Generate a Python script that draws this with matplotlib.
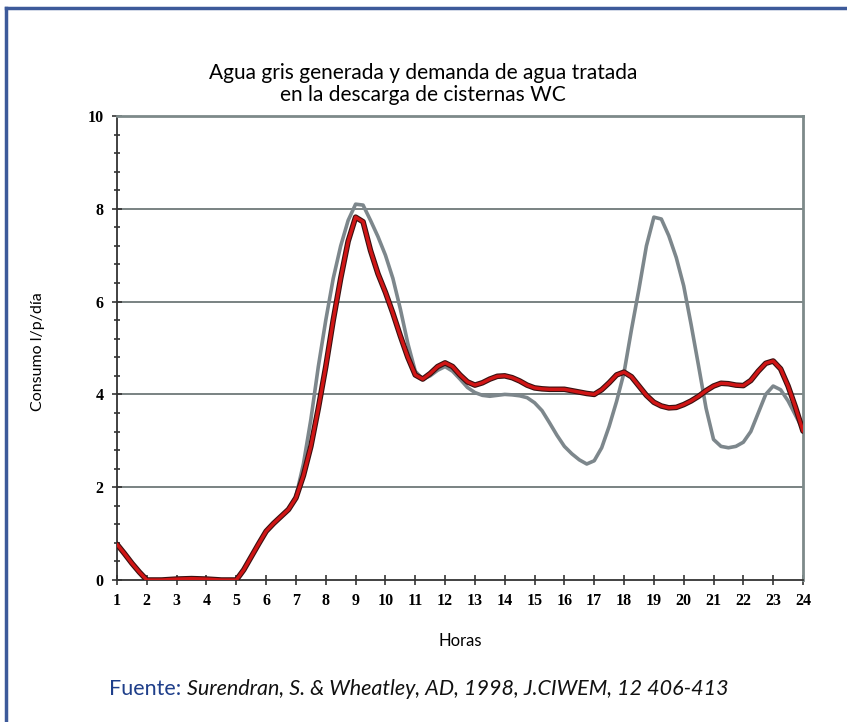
import matplotlib.pyplot as plt
from matplotlib.lines import Line2D
from matplotlib.ticker import MultipleLocator

# horas (cuartos de hora donde la curva cambia)
horas = [1, 1.25, 1.5, 1.75, 2, 2.5, 3, 3.5, 4, 4.5, 5,
         5.25, 5.5, 5.75, 6, 6.25, 6.5, 6.75, 7,
         7.25, 7.5, 7.75, 8, 8.25, 8.5, 8.75, 9,
         9.25, 9.5, 9.75, 10, 10.25, 10.5, 10.75, 11,
         11.25, 11.5, 11.75, 12, 12.25, 12.5, 12.75, 13,
         13.25, 13.5, 13.75, 14, 14.25, 14.5, 14.75, 15,
         15.25, 15.5, 15.75, 16, 16.25, 16.5, 16.75, 17,
         17.25, 17.5, 17.75, 18, 18.25, 18.5, 18.75, 19,
         19.25, 19.5, 19.75, 20, 20.25, 20.5, 20.75, 21,
         21.25, 21.5, 21.75, 22, 22.25, 22.5, 22.75, 23,
         23.25, 23.5, 23.75, 24]

# agua gris generada
gris = [0.77, 0.57, 0.36, 0.17, 0.0, 0.0, 0.02, 0.03, 0.02, 0.0, 0.0,
        0.22, 0.5, 0.78, 1.05, 1.22, 1.37, 1.52, 1.8,
        2.5, 3.46, 4.6, 5.6, 6.5, 7.2, 7.75, 8.1,
        8.08, 7.75, 7.4, 7.0, 6.5, 5.84, 5.1, 4.5,
        4.33, 4.4, 4.52, 4.6, 4.5, 4.33, 4.15, 4.04,
        3.98, 3.96, 3.98, 4.0, 3.99, 3.97, 3.93, 3.82,
        3.65, 3.39, 3.12, 2.88, 2.72, 2.59, 2.5, 2.57,
        2.85, 3.31, 3.85, 4.47, 5.4, 6.27, 7.2, 7.82,
        7.78, 7.42, 6.95, 6.34, 5.5, 4.61, 3.7, 3.03,
        2.88, 2.85, 2.88, 2.97, 3.2, 3.6, 4.0, 4.18,
        4.1, 3.86, 3.55, 3.24]

# demanda de agua tratada (cisternas WC)
tratada = [0.77, 0.57, 0.36, 0.17, 0.0, 0.0, 0.02, 0.03, 0.02, 0.0, 0.0,
           0.22, 0.5, 0.78, 1.05, 1.22, 1.37, 1.52, 1.77,
           2.25, 2.88, 3.7, 4.6, 5.6, 6.5, 7.3, 7.82,
           7.72, 7.1, 6.6, 6.2, 5.75, 5.26, 4.8, 4.42,
           4.33, 4.45, 4.6, 4.68, 4.6, 4.42, 4.27, 4.2,
           4.25, 4.33, 4.39, 4.4, 4.36, 4.29, 4.2, 4.14,
           4.12, 4.11, 4.11, 4.11, 4.08, 4.05, 4.02, 4.0,
           4.1, 4.25, 4.42, 4.48, 4.38, 4.18, 3.98, 3.83,
           3.75, 3.71, 3.72, 3.78, 3.86, 3.96, 4.08, 4.18,
           4.24, 4.23, 4.2, 4.19, 4.3, 4.5, 4.67, 4.72,
           4.55, 4.18, 3.72, 3.21]

xticks = list(range(1, 25))
yticks = [0, 2, 4, 6, 8, 10]

fig = plt.figure(figsize=(8.47, 7.22), dpi=100)
ax = fig.add_axes([117 / 847, 1 - 580 / 722, 686 / 847, 464 / 722])

for y in [2, 4, 6, 8]:
    ax.axhline(y, color='#6e7878', lw=1.3, zorder=1)

line_kw = dict(solid_capstyle='round', solid_joinstyle='round')
ax.plot(horas, gris, color='#7d878c', lw=2.6, zorder=2, **line_kw)
ax.plot(horas, tratada, color='#3a1010', lw=4.0, zorder=3, **line_kw)
ax.plot(horas, tratada, color='#d01515', lw=2.4, zorder=4, **line_kw)

ax.set_xlim(1, 24)
ax.set_ylim(0, 10)
ax.set_xticks(xticks)
ax.set_yticks(yticks)
ax.yaxis.set_minor_locator(MultipleLocator(0.4))
tick_font = dict(family='Liberation Serif', weight='bold', size=11.5)
ax.set_xticklabels([str(h) for h in xticks], **tick_font)
ax.set_yticklabels([str(v) for v in yticks], **tick_font)
ax.tick_params(axis='both', which='major', direction='inout', length=7, width=1.2,
               color='#333333', pad=6)
ax.tick_params(axis='y', which='minor', direction='inout', length=4, width=1.2,
               color='#333333')

ax.spines['left'].set_color('#333333')
ax.spines['bottom'].set_color('#333333')
ax.spines['left'].set_linewidth(1.3)
ax.spines['bottom'].set_linewidth(1.3)
ax.spines['top'].set_color('#7d8a8a')
ax.spines['right'].set_color('#7d8a8a')
ax.spines['top'].set_linewidth(2)
ax.spines['right'].set_linewidth(2)

label_font = ['Lato', 'DejaVu Sans']
fig.text(423 / 847, 1 - 84 / 722, 'Agua gris generada y demanda de agua tratada\nen la descarga de cisternas WC',
         ha='center', va='center', fontsize=15, family=label_font, linespacing=1.12)
fig.text(38 / 847, 1 - 352 / 722, 'Consumo l/p/día', rotation=90, ha='center', va='center',
         fontsize=11.5, family=label_font)
fig.text(460 / 847, 1 - 641 / 722, 'Horas', ha='center', va='center', fontsize=12,
         family=label_font)

# fuente
t1 = fig.text(109 / 847, 1 - 689 / 722, 'Fuente: ', ha='left', va='center', fontsize=15.5,
              family=label_font, color='#1f3f8a')
fig.canvas.draw()
bb = t1.get_window_extent()
fig.text(bb.x1 / fig.bbox.width, 1 - 689 / 722,
         'Surendran, S. & Wheatley, AD, 1998, J.CIWEM, 12 406-413',
         ha='left', va='center', fontsize=15.5, family=label_font, style='italic', color='#111111')

# marco azul (izquierda y arriba)
fig.add_artist(Line2D([6 / 847, 6 / 847], [0, 1 - 8 / 722], transform=fig.transFigure,
                      color='#3d5a9a', lw=2.5))
fig.add_artist(Line2D([6 / 847, 1], [1 - 8 / 722, 1 - 8 / 722], transform=fig.transFigure,
                      color='#3d5a9a', lw=2.5))

fig.savefig('out.png', dpi=100)
